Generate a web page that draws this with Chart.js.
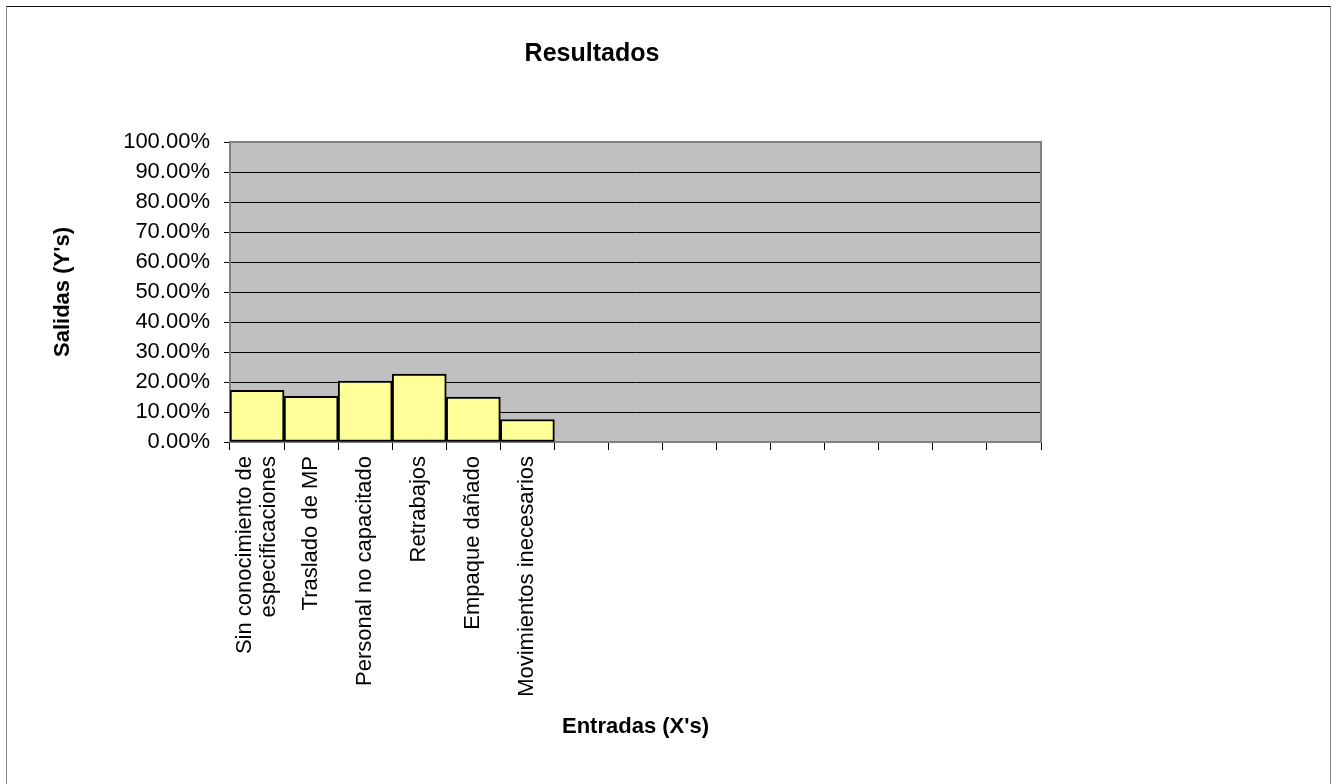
<!DOCTYPE html>
<html>
<head>
<meta charset="utf-8">
<title>Resultados</title>
<script src="https://cdn.jsdelivr.net/npm/chart.js@4/dist/chart.umd.min.js"></script>
<style>
  body { margin: 0; background: #fff; overflow: hidden; }
  #frame {
    position: absolute; left: 6px; top: 6px; width: 1325px; height: 800px;
    box-sizing: border-box; border: 1px solid #888; border-top-color: #111;
  }
  #resultsChart { position: absolute; left: 0; top: 0; }
</style>
</head>
<body>
<div id="frame"></div>
<canvas id="resultsChart" width="1338" height="784"></canvas>
<script>
// Data
const chartTitle = 'Resultados';
const xTitle = "Entradas (X's)";
const yTitle = "Salidas (Y's)";
const categories = [
  ['Sin conocimiento de', 'especificaciones'],
  'Traslado de MP',
  'Personal no capacitado',
  'Retrabajos',
  'Empaque dañado',
  'Movimientos inecesarios',
  '', '', '', '', '', '', '', '', ''
];
const salidas = [0.172, 0.152, 0.203, 0.226, 0.150, 0.075];
const yMin = 0;
const yMax = 1;
const yStep = 0.1;

const fontFamily = '"Liberation Sans", Arial, sans-serif';
const tickFont = { family: fontFamily, size: 22, lineHeight: 1.1 };

// gray plot area + its border, and the chart title
const plotArea = {
  id: 'plotArea',
  beforeDraw(chart) {
    const { ctx, chartArea: a } = chart;
    ctx.save();
    ctx.fillStyle = '#C0C0C0';
    ctx.fillRect(a.left, a.top, a.right - a.left, a.bottom - a.top);
    ctx.restore();

    // center multi-line x labels on their category, like Excel does
    const lh = tickFont.size * tickFont.lineHeight;
    chart.scales.x.getLabelItems().forEach((item) => {
      if (Array.isArray(item.label) && !item.centered) {
        item.options.translation[0] -= (item.label.length - 1) * lh / 2;
        item.centered = true;
      }
    });
  },
  beforeDatasetsDraw(chart) {
    const { ctx, chartArea: a } = chart;
    ctx.save();
    ctx.strokeStyle = '#808080';
    ctx.lineWidth = 2;
    ctx.strokeRect(a.left, a.top, a.right - a.left, a.bottom - a.top);
    ctx.restore();
  },
  afterDraw(chart) {
    const { ctx } = chart;
    ctx.save();
    ctx.font = 'bold 25px ' + fontFamily;
    ctx.fillStyle = '#000';
    ctx.textAlign = 'center';
    ctx.textBaseline = 'middle';
    ctx.fillText(chartTitle, 592, 54);
    ctx.restore();
  }
};

const resultsChart = new Chart(
  document.getElementById('resultsChart').getContext('2d'),
  {
    type: 'bar',
    data: {
      labels: categories,
      datasets: [{
        data: salidas,
        backgroundColor: '#FFFF99',
        borderColor: '#000',
        borderWidth: 2,
        borderSkipped: false,
        barPercentage: 1,
        categoryPercentage: 1
      }]
    },
    options: {
      responsive: false,
      animation: false,
      layout: {
        padding: { left: 40, top: 142, right: 297, bottom: 20 }
      },
      plugins: {
        legend: { display: false },
        tooltip: { enabled: false }
      },
      scales: {
        x: {
          afterFit: (axis) => { axis.height = 322; },
          grid: {
            drawOnChartArea: false,
            drawTicks: true,
            tickLength: 8,
            color: '#000'
          },
          border: { display: true, color: '#000' },
          ticks: {
            autoSkip: false,
            minRotation: 90,
            maxRotation: 90,
            padding: 6,
            color: '#000',
            font: tickFont
          },
          title: {
            display: true,
            text: xTitle,
            color: '#000',
            padding: { top: 0, bottom: 24 },
            font: { family: fontFamily, size: 22, weight: 'bold' }
          }
        },
        y: {
          min: yMin,
          max: yMax,
          afterFit: (axis) => { axis.width = 190; },
          grid: {
            color: '#000',
            tickLength: 6
          },
          border: { display: false },
          ticks: {
            stepSize: yStep,
            padding: 14,
            color: '#000',
            font: { family: fontFamily, size: 22 },
            callback: (value) => (value * 100).toFixed(2) + '%'
          },
          title: {
            display: true,
            text: yTitle,
            color: '#000',
            padding: { top: 10, bottom: 0 },
            font: { family: fontFamily, size: 22, weight: 'bold' }
          }
        }
      }
    },
    plugins: [plotArea]
  }
);
</script>
</body>
</html>
